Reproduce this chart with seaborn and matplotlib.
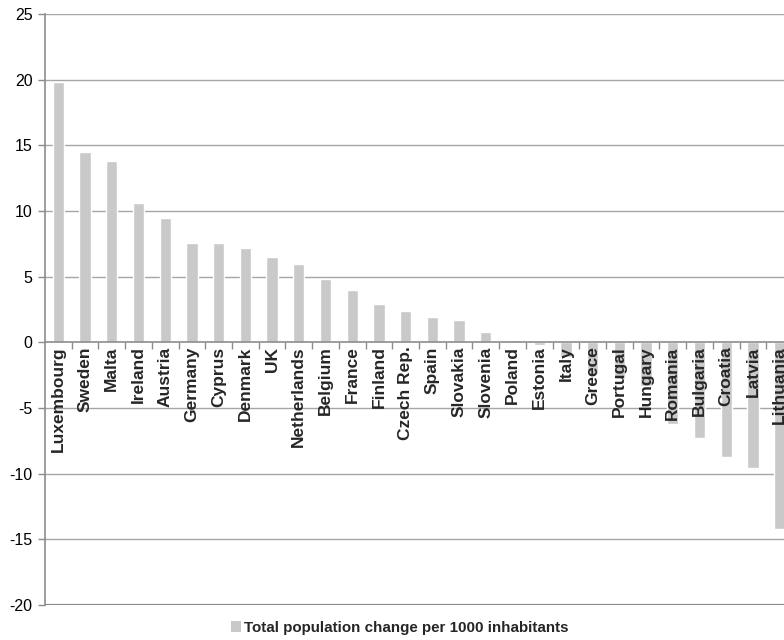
import matplotlib
matplotlib.use("Agg")
import matplotlib.pyplot as plt
import seaborn as sns
import pandas as pd
from matplotlib.patches import Patch

countries = ["Luxembourg", "Sweden", "Malta", "Ireland", "Austria", "Germany", "Cyprus",
             "Denmark", "UK", "Netherlands", "Belgium", "France", "Finland", "Czech Rep.",
             "Spain", "Slovakia", "Slovenia", "Poland", "Estonia", "Italy", "Greece",
             "Portugal", "Hungary", "Romania", "Bulgaria", "Croatia", "Latvia", "Lithuania"]
values = [19.8, 14.5, 13.8, 10.6, 9.5, 7.6, 7.6,
          7.2, 6.5, 6.0, 4.8, 4.0, 2.9, 2.4,
          1.9, 1.7, 0.8, 0.2, -0.2, -1.1, -2.4,
          -2.8, -3.3, -6.2, -7.3, -8.7, -9.6, -14.2]
series_name = "Total population change per 1000 inhabitants"
yticks = [-20, -15, -10, -5, 0, 5, 10, 15, 20, 25]

df = pd.DataFrame({"country": countries, "value": values})

sns.set_theme(style="white")
plt.rcParams["font.family"] = ["Liberation Sans", "DejaVu Sans"]

fig = plt.figure(figsize=(7.84, 6.4), dpi=100)
ax = fig.add_axes([45 / 784, 35 / 640, 748 / 784, 591 / 640])

bar_color = "#c9c9c9"
sns.barplot(data=df, x="country", y="value", color=bar_color, width=0.42,
            saturation=1, ax=ax, zorder=2)

ax.set_axisbelow(False)
ax.set_xlim(-0.5, len(countries) - 0.5)
ax.set_ylim(-20, 25)
ax.set_yticks(yticks)
ax.set_yticklabels([str(t) for t in yticks], fontsize=11.5, color="black")
ax.set_xlabel("")
ax.set_ylabel("")

grid_color = "#a6a6a6"
for t in yticks:
    if t == -20:
        ax.axhline(t, color="#8c8c8c", lw=1.6, zorder=1)
    elif t != 0:
        ax.axhline(t, color=grid_color, lw=1.0, zorder=1)

for s in ["top", "right"]:
    ax.spines[s].set_visible(False)
ax.spines["left"].set_color("#8c8c8c")
ax.spines["left"].set_linewidth(1.2)
ax.spines["bottom"].set_position(("data", 0))
ax.spines["bottom"].set_color("#8c8c8c")
ax.spines["bottom"].set_linewidth(1.2)
ax.spines["bottom"].set_zorder(3)

ax.tick_params(axis="y", which="major", direction="out", length=5, width=1,
               color="#8c8c8c", left=True, pad=4)

ax.set_xticks(range(len(countries)))
ax.set_xticklabels(countries, rotation=90, fontsize=12.5, fontweight="bold",
                   va="top", ha="center")
ax.tick_params(axis="x", which="major", length=0, pad=3, bottom=True)
ax.set_xticks([i + 0.5 for i in range(len(countries))], minor=True)
ax.tick_params(axis="x", which="minor", direction="out", length=5, width=1,
               color="#8c8c8c", bottom=True)

handle = Patch(facecolor=bar_color, edgecolor="none")
fig.legend([handle], [series_name], loc="center", bbox_to_anchor=(0.51, 0.019),
           frameon=False, handlelength=0.7, handleheight=0.7, handletextpad=0.2,
           prop={"weight": "bold", "size": 10.9})

fig.savefig("out.png", dpi=100)
